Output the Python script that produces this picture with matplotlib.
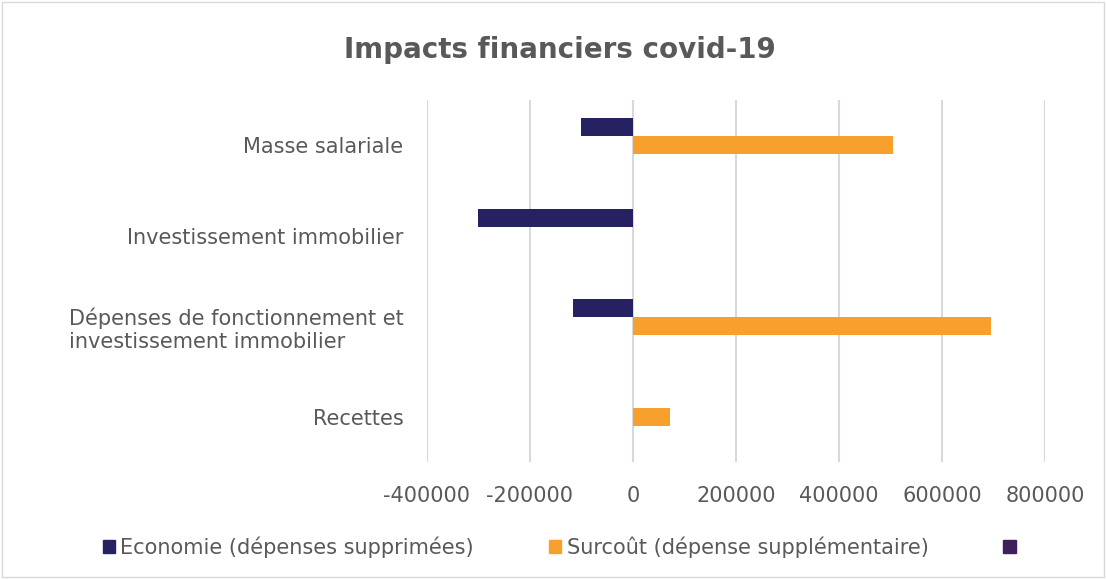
import matplotlib.pyplot as plt
import numpy as np
from matplotlib.patches import Patch

# Data
categories = ['Masse salariale', 'Investissement immobilier',
              'Dépenses de fonctionnement et\ninvestissement immobilier', 'Recettes']
economie = [-100000, -300000, -116000, 0]
surcout = [505000, 0, 695000, 71000]
series_names = ['Economie (dépenses supprimées)', 'Surcoût (dépense supplémentaire)', '']

navy = '#262262'
orange = '#F7A02D'
purple = '#3F1F5C'
grey_txt = '#595959'

plt.rcParams['font.family'] = ['DejaVu Sans']

fig = plt.figure(figsize=(11.06, 5.79), dpi=100)
ax = fig.add_axes([0.386, 0.202, 0.559, 0.625])

y = np.arange(len(categories))
h = 0.2
ax.barh(y - h, economie, height=h, color=navy, zorder=3)
ax.barh(y, surcout, height=h, color=orange, zorder=3)

ax.set_xlim(-400000, 800000)
ax.set_xticks(np.arange(-400000, 800001, 200000))
ax.set_xticklabels([str(v) for v in range(-400000, 800001, 200000)])
ax.set_ylim(len(categories) - 0.5, -0.5)
ax.set_yticks(y)
ax.set_yticklabels(categories, multialignment='left')

ax.grid(axis='x', color='#d9d9d9', linewidth=1.5, zorder=0)
for s in ax.spines.values():
    s.set_visible(False)
ax.tick_params(axis='both', length=0, labelsize=15, labelcolor=grey_txt)
ax.tick_params(axis='y', pad=17)
ax.tick_params(axis='x', pad=17)

fig.text(0.506, 0.913, 'Impacts financiers covid-19', ha='center', va='center',
         fontsize=20, fontweight='bold', color=grey_txt)

handles = [Patch(color=navy), Patch(color=orange), Patch(color=purple)]
fig.legend(handles, series_names, loc='center', bbox_to_anchor=(0.508, 0.055),
           ncol=3, frameon=False, fontsize=15, labelcolor=grey_txt,
           handlelength=0.6, handleheight=0.6, handletextpad=0.25, columnspacing=3.6)

# light frame around the whole chart
fig.add_artist(plt.Rectangle((0.002, 0.003), 0.996, 0.994, transform=fig.transFigure,
                             fill=False, edgecolor='#d9d9d9', linewidth=1))

plt.savefig('out.png', dpi=100)
